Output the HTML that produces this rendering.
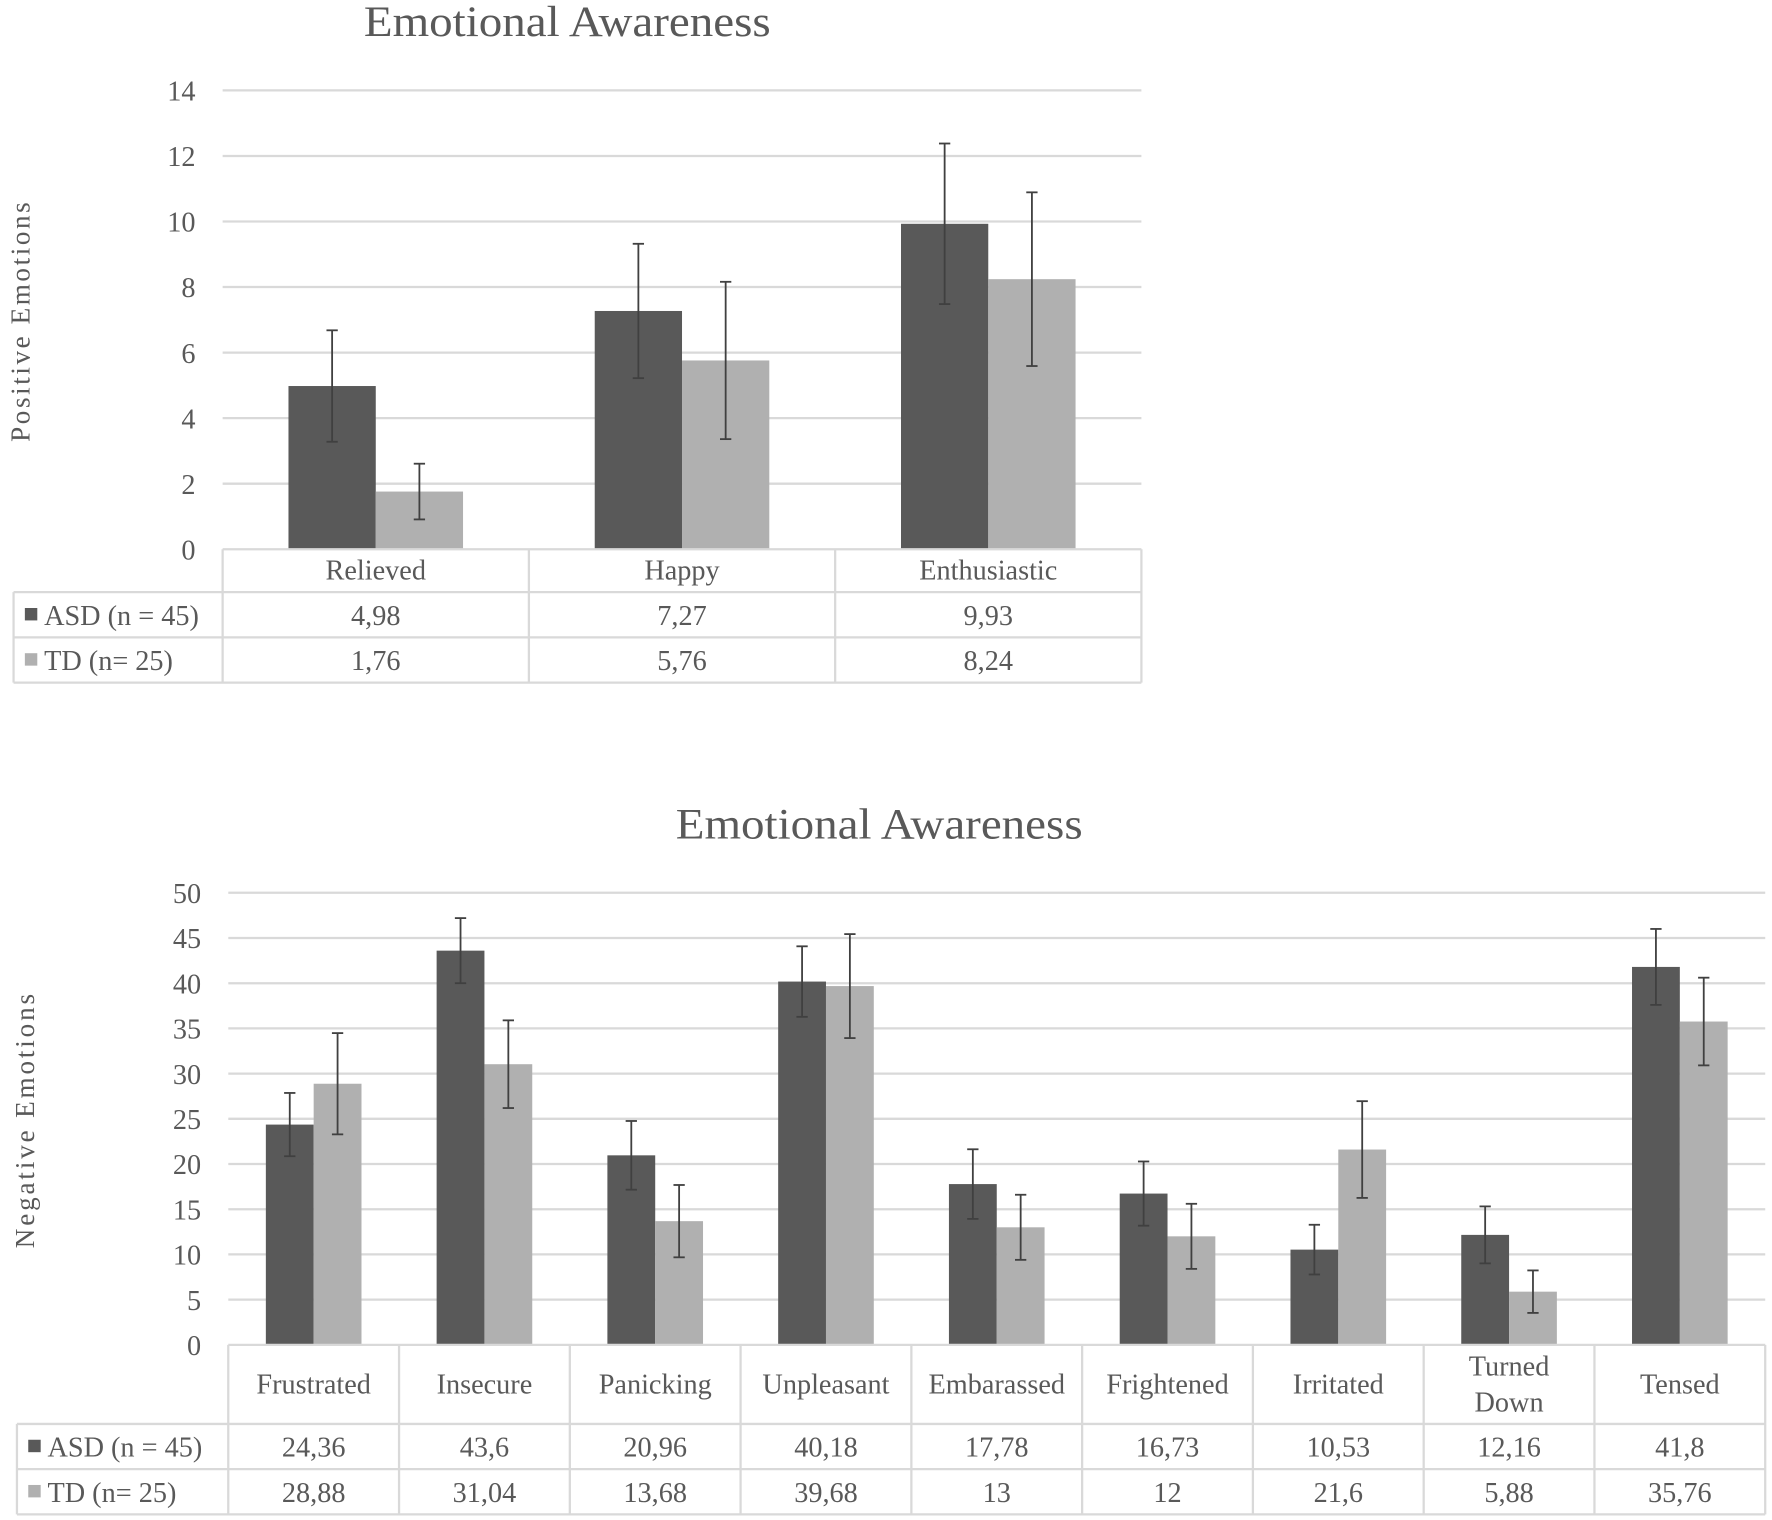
<!DOCTYPE html>
<html><head><meta charset="utf-8"><style>
html,body{margin:0;padding:0;background:#fff;}
svg{display:block;font-family:"Liberation Serif",serif;}
</style></head><body>
<svg id="root" width="1772" height="1520" viewBox="0 0 1568 1345" xmlns="http://www.w3.org/2000/svg">
<g id="c1"></g>
<g id="c2"></g>
</svg>
<script>
const posCategories = ["Relieved", "Happy", "Enthusiastic"];
const posASD = [4.98, 7.27, 9.93];
const posTD = [1.76, 5.76, 8.24];
const posASDLabels = ["4,98", "7,27", "9,93"];
const posTDLabels = ["1,76", "5,76", "8,24"];
const posASDErr = [1.7, 2.05, 2.45];
const posTDErr = [0.85, 2.4, 2.65];
const posTicks = [0, 2, 4, 6, 8, 10, 12, 14];

const negCategories = [["Frustrated"], ["Insecure"], ["Panicking"], ["Unpleasant"], ["Embarassed"], ["Frightened"], ["Irritated"], ["Turned", "Down"], ["Tensed"]];
const negASD = [24.36, 43.6, 20.96, 40.18, 17.78, 16.73, 10.53, 12.16, 41.8];
const negTD = [28.88, 31.04, 13.68, 39.68, 13, 12, 21.6, 5.88, 35.76];
const negASDLabels = ["24,36", "43,6", "20,96", "40,18", "17,78", "16,73", "10,53", "12,16", "41,8"];
const negTDLabels = ["28,88", "31,04", "13,68", "39,68", "13", "12", "21,6", "5,88", "35,76"];
const negASDErr = [3.5, 3.6, 3.8, 3.9, 3.85, 3.55, 2.75, 3.15, 4.2];
const negTDErr = [5.6, 4.85, 4.0, 5.75, 3.6, 3.6, 5.35, 2.35, 4.85];
const negTicks = [0, 5, 10, 15, 20, 25, 30, 35, 40, 45, 50];

const NS = "http://www.w3.org/2000/svg";
function mk(parent, tag, attrs, text) {
  const e = document.createElementNS(NS, tag);
  for (const k in attrs) e.setAttribute(k, attrs[k]);
  if (text !== undefined) e.textContent = text;
  parent.appendChild(e);
  return e;
}
const DARK = "#595959", LIGHT = "#b0b0b0", GRID = "#d9d9d9", TXT = "#595959";

function drawChart(g, cfg) {
  const {cats, asd, td, asdL, tdL, asdE, tdE, ticks, x0, x1, yTop, yBot, yMax, barFrac,
         title, titleX, titleY, yTitle, yTitleX, yTitleY, yTitleLen, rows, tableLeft, fs} = cfg;
  const y = v => yBot - (v / yMax) * (yBot - yTop);
  const cw = (x1 - x0) / cats.length;
  const bw = cw * barFrac;
  const t = mk(g, "text", {x: titleX, y: titleY, "text-anchor": "middle", "font-size": 38, fill: TXT, textLength: 360, lengthAdjust: "spacingAndGlyphs"}, title);
  
  
  const yt = mk(g, "text", {transform: `translate(${yTitleX},${yTitleY}) rotate(-90)`, "text-anchor": "middle", "font-size": 24, fill: TXT, textLength: yTitleLen, lengthAdjust: "spacing"}, yTitle);
  
  
  ticks.forEach(v => {
    if (v > 0) {
      const l = mk(g, "line", {x1: x0, x2: x1, y1: y(v), y2: y(v), stroke: GRID, "stroke-width": 2});
      
      
    }
    const tl = mk(g, "text", {x: x0 - 24, y: y(v) + 9, "text-anchor": "end", "font-size": fs, fill: TXT}, String(v));
    
    
  });
  cats.forEach((c, i) => {
    const cx = x0 + cw * (i + 0.5);
    [[asd[i], asdE[i], DARK, cx - bw, 'bar-asd'], [td[i], tdE[i], LIGHT, cx, 'bar-td']].forEach(([v, e, col, bx, nm]) => {
      const r = mk(g, "rect", {x: bx, y: y(v), width: bw, height: yBot - y(v), fill: col});
      
      
      const ex = bx + bw / 2;
      const eg = mk(g, "g", {stroke: "#404040", "stroke-width": 1.6});
      
      
      mk(eg, "line", {x1: ex, x2: ex, y1: y(v - e), y2: y(v + e)});
      mk(eg, "line", {x1: ex - 5, x2: ex + 5, y1: y(v - e), y2: y(v - e)});
      mk(eg, "line", {x1: ex - 5, x2: ex + 5, y1: y(v + e), y2: y(v + e)});
    });
  });
  const [h0, h1, h2, h3] = rows;
  const tg = mk(g, "g", {stroke: GRID, "stroke-width": 2, fill: "none"});
  
  
  mk(tg, "line", {x1: x0, x2: x1, y1: h0, y2: h0});
  mk(tg, "line", {x1: tableLeft, x2: x1, y1: h1, y2: h1});
  mk(tg, "line", {x1: tableLeft, x2: x1, y1: h2, y2: h2});
  mk(tg, "line", {x1: tableLeft, x2: x1, y1: h3, y2: h3});
  mk(tg, "line", {x1: tableLeft, x2: tableLeft, y1: h1, y2: h3});
  for (let i = 0; i <= cats.length; i++) {
    const xx = x0 + cw * i;
    mk(tg, "line", {x1: xx, x2: xx, y1: h0, y2: h3});
  }
  cats.forEach((c, i) => {
    const cx = x0 + cw * (i + 0.5);
    const lines = Array.isArray(c) ? c : [c];
    const mid = (h0 + h1) / 2;
    lines.forEach((ln, k) => {
      const ty = mid + 8 + (k - (lines.length - 1) / 2) * 32;
      const ct = mk(g, "text", {x: cx, y: ty, "text-anchor": "middle", "font-size": fs, fill: TXT}, ln);
      
      
    });
    const a = mk(g, "text", {x: cx, y: (h1 + h2) / 2 + 9, "text-anchor": "middle", "font-size": fs, fill: TXT}, asdL[i]);
    
    
    const b = mk(g, "text", {x: cx, y: (h2 + h3) / 2 + 9, "text-anchor": "middle", "font-size": fs, fill: TXT}, tdL[i]);
    
    
  });
  [[h1, h2, DARK, "ASD (n = 45)", 'legend-asd'], [h2, h3, LIGHT, "TD (n= 25)", 'legend-td']].forEach(([a, b, col, txt, nm]) => {
    const lg = mk(g, "g", {});
    
    
    const m = (a + b) / 2;
    mk(lg, "rect", {x: tableLeft + 10, y: m - 6, width: 11, height: 11, fill: col});
    mk(lg, "text", {x: tableLeft + 27, y: m + 9, "font-size": fs, fill: TXT}, txt);
  });
}

drawChart(document.getElementById("c1"), {
  cats: posCategories, asd: posASD, td: posTD, asdL: posASDLabels, tdL: posTDLabels,
  asdE: posASDErr, tdE: posTDErr, ticks: posTicks, x0: 197, x1: 1010, yTop: 80, yBot: 486, yMax: 14,
  barFrac: 0.285, title: "Emotional Awareness", titleX: 502, titleY: 32,
  yTitle: "Positive Emotions", yTitleX: 26, yTitleY: 285, yTitleLen: 212, rows: [486, 524, 564, 604], tableLeft: 12, fs: 25
});
drawChart(document.getElementById("c2"), {
  cats: negCategories, asd: negASD, td: negTD, asdL: negASDLabels, tdL: negTDLabels,
  asdE: negASDErr, tdE: negTDErr, ticks: negTicks, x0: 202, x1: 1562, yTop: 790, yBot: 1190, yMax: 50,
  barFrac: 0.28, title: "Emotional Awareness", titleX: 778, titleY: 742,
  yTitle: "Negative Emotions", yTitleX: 30, yTitleY: 992, yTitleLen: 225, rows: [1190, 1260, 1300, 1340], tableLeft: 15, fs: 25
});
</script>
</body></html>
